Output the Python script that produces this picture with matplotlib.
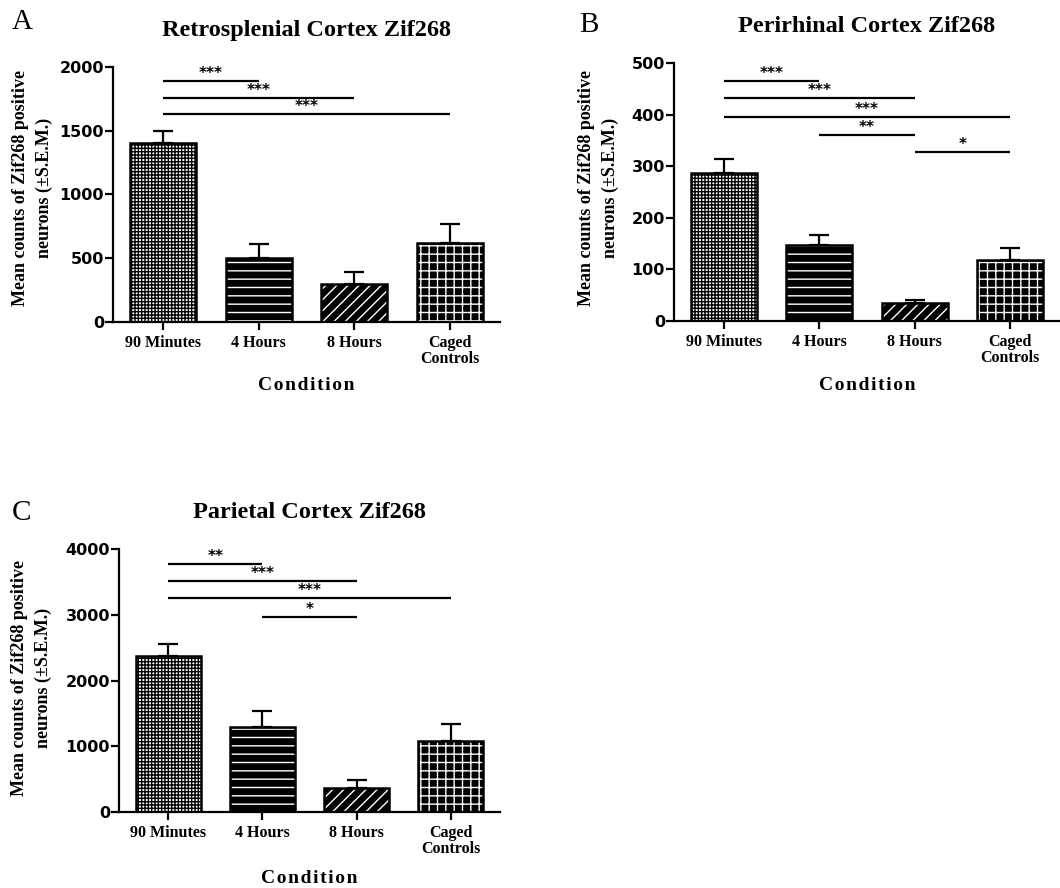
import numpy as np
import matplotlib
matplotlib.use('Agg')
import matplotlib.pyplot as plt

# --- data ---
CONDITIONS = ['90 Minutes', '4 Hours', '8 Hours', 'Caged\nControls']

RSC_MEAN = [1400, 500, 300, 620]
RSC_SEM = [100, 110, 90, 150]
PRH_MEAN = [287, 147, 34, 118]
PRH_SEM = [27, 19, 6, 23]
PAR_MEAN = [2380, 1290, 372, 1084]
PAR_SEM = [176, 243, 112, 255]

# significance brackets: (from bar, to bar, height, label)
RSC_SIG = [(0, 1, 1890, '***'), (0, 2, 1760, '***'), (0, 3, 1630, '***')]
PRH_SIG = [(0, 1, 466, '***'), (0, 2, 432, '***'), (0, 3, 396, '***'),
           (1, 2, 360, '**'), (2, 3, 327, '*')]
PAR_SIG = [(0, 1, 3770, '**'), (0, 2, 3510, '***'), (0, 3, 3260, '***'),
           (1, 2, 2970, '*')]

# face colour, hatch colour, hatch  (one per condition)
BAR_STYLE = [('white', 'black', '+++++'),
             ('black', 'white', '--'),
             ('black', 'white', '///'),
             ('black', 'white', '++')]

SERIF = ['Liberation Serif', 'DejaVu Serif']
plt.rcParams['hatch.linewidth'] = 1.0
plt.rcParams['axes.linewidth'] = 1.6

W, H = 1060, 888
fig = plt.figure(figsize=(W / 100, H / 100), dpi=100)


def px_axes(left, top, right, bottom):
    return fig.add_axes([left / W, 1 - bottom / H, (right - left) / W, (bottom - top) / H])


def panel(ax, means, sems, sig, ymax, ystep, title, letter, letter_xy,
          ylab_xy, xlab_y):
    x = np.arange(len(means))
    for i in range(len(means)):
        face, hcol, hatch = BAR_STYLE[i]
        ax.bar(x[i], means[i], width=0.69, color=face, edgecolor=hcol,
               hatch=hatch, linewidth=0, zorder=2)
        ax.bar(x[i], means[i], width=0.69, fill=False, edgecolor='black',
               linewidth=1.8, zorder=3)
    ax.errorbar(x, means, yerr=[np.zeros(len(sems)), sems], fmt='none',
                ecolor='black', elinewidth=1.6, capsize=7, capthick=1.6, zorder=1)
    for a, b, y, lab in sig:
        ax.plot([a, b], [y, y], color='black', linewidth=1.6, zorder=4,
                solid_capstyle='butt')
        ax.annotate(lab, ((a + b) / 2, y), xytext=(0, 0), textcoords='offset points',
                    ha='center', va='bottom', fontsize=11, fontweight='bold',
                    family='DejaVu Sans')
    ax.set_xlim(-0.52, 3.52)
    ax.set_ylim(0, ymax)
    ax.set_yticks(np.arange(0, ymax + 1, ystep))
    ax.set_xticks(x)
    ax.set_xticklabels(CONDITIONS, family=SERIF, fontweight='bold', fontsize=11.5,
                       linespacing=1.0)
    for t in ax.get_yticklabels():
        t.set_family('DejaVu Sans')
        t.set_fontweight('bold')
        t.set_fontsize(11.5)
    ax.tick_params(axis='both', direction='out', length=6, width=1.6)
    ax.tick_params(axis='y', pad=0.5)
    for sp in ('top', 'right'):
        ax.spines[sp].set_visible(False)
    ax.set_ylabel('Mean counts of Zif268 positive\nneurons (\u00b1S.E.M.)',
                  family=SERIF, fontweight='bold', fontsize=13, linespacing=1.5)
    ax.yaxis.set_label_coords(ylab_xy[0] / W, 1 - ylab_xy[1] / H,
                              transform=fig.transFigure)
    ax.set_xlabel('C o n d i t i o n'.replace(' ', '\u200a'), family=SERIF,
                  fontweight='bold', fontsize=14)
    pos = ax.get_position()
    ax.xaxis.set_label_coords((pos.x0 + pos.x1) / 2, 1 - xlab_y / H,
                              transform=fig.transFigure)
    ax.set_title(title, family=SERIF, fontweight='bold', fontsize=17.5, pad=22)
    fig.text(letter_xy[0] / W, 1 - letter_xy[1] / H, letter, family=SERIF,
             fontsize=21, ha='left', va='top')


ax_a = px_axes(113, 67, 500, 322)
ax_b = px_axes(674, 63, 1060, 321)
ax_c = px_axes(119, 549, 500, 812)

panel(ax_a, RSC_MEAN, RSC_SEM, RSC_SIG, 2000, 500,
      'Retrosplenial Cortex Zif268', 'A', (12, 9), (53, 188), 377)
panel(ax_b, PRH_MEAN, PRH_SEM, PRH_SIG, 500, 100,
      'Perirhinal Cortex Zif268', 'B', (579, 12), (619, 188), 377)
panel(ax_c, PAR_MEAN, PAR_SEM, PAR_SIG, 4000, 1000,
      'Parietal Cortex Zif268', 'C', (12, 500), (52, 678), 870)

fig.savefig('out.png', dpi=100)
